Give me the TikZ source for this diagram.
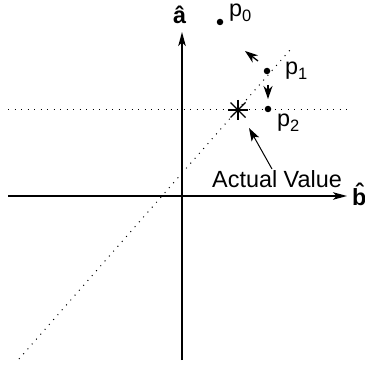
\documentclass[tikz,border=0pt]{standalone}
\usepackage{fontspec}
\setmainfont{Liberation Sans}
\usetikzlibrary{arrows.meta}
\begin{document}
\begin{tikzpicture}[x=1pt,y=-1pt,
  axis/.style={line width=1.3pt, -{Stealth[length=14pt,width=7.5pt,inset=3.5pt]}},
  dots/.style={line width=1pt, dash pattern=on 1pt off 5.5pt},
  pt/.style={circle, fill, inner sep=0pt, minimum size=6.5pt},
  lbl/.style={inner sep=0pt, anchor=base west, font=\fontsize{23.4}{28}\selectfont},
  head/.style={line width=1.3pt, -{Stealth[length=13pt,width=9pt,inset=4pt]}}]
\useasboundingbox (0,0) rectangle (364,366);
% dotted guide lines
\coordinate (d1) at (19,359);
\coordinate (d2) at (290,50);
\draw[dots] (d1) -- (d2);
\coordinate (h1) at (8,110);
\coordinate (h2) at (350,110);
\draw[dots] (h1) -- (h2);
% axes
\coordinate (vb) at (182,360);
\coordinate (vt) at (182,32);
\coordinate (hl) at (8,196);
\coordinate (hr) at (347,196);
\draw[axis] (vb) -- (vt);
\draw[axis] (hl) -- (hr);
\node[lbl] (alab) at (173,24) {\textbf{\^a}};
\node[lbl] (blab) at (352,205) {\textbf{\^b}};
% points
\node[pt] (p0) at (220,22) {};
\node[pt] (p1) at (267,71) {};
\node[pt] (p2) at (268,109) {};
\newcommand{\subsc}[1]{\raisebox{-5pt}{\fontsize{16.5}{18}\selectfont #1}}
\node[lbl] (p0l) at (229,17) {p\subsc{0}};
\node[lbl] (p1l) at (285,75) {p\subsc{1}};
\node[lbl] (p2l) at (277,127) {p\subsc{2}};
% actual value star
\coordinate (star) at (238,110);
\draw[line width=1.2pt] (star) ++(-10,0) -- ++(20,0);
\draw[line width=1.2pt] (star) ++(0,-10) -- ++(0,20);
\draw[line width=1.2pt] (star) ++(-7.5,-7.5) -- ++(15,15);
\draw[line width=1.2pt] (star) ++(-7.5,7.5) -- ++(15,-15);
% short arrows between estimates
\coordinate (f1tip) at (245,51);
\coordinate (f1tail) at (258,61);
\draw[head] (f1tail) -- (f1tip);
\coordinate (f2tip) at (268,99);
\coordinate (f2tail) at (268,85);
\draw[head] (f2tail) -- (f2tip);
% label
\node[lbl] (av) at (212,187) {Actual Value};
\coordinate (avs) at (272,169);
\coordinate (avt) at (249,128);
\draw[line width=1pt, -{Stealth[length=13pt,width=8.5pt,inset=3pt]}] (avs) -- (avt);
\end{tikzpicture}
\end{document}
